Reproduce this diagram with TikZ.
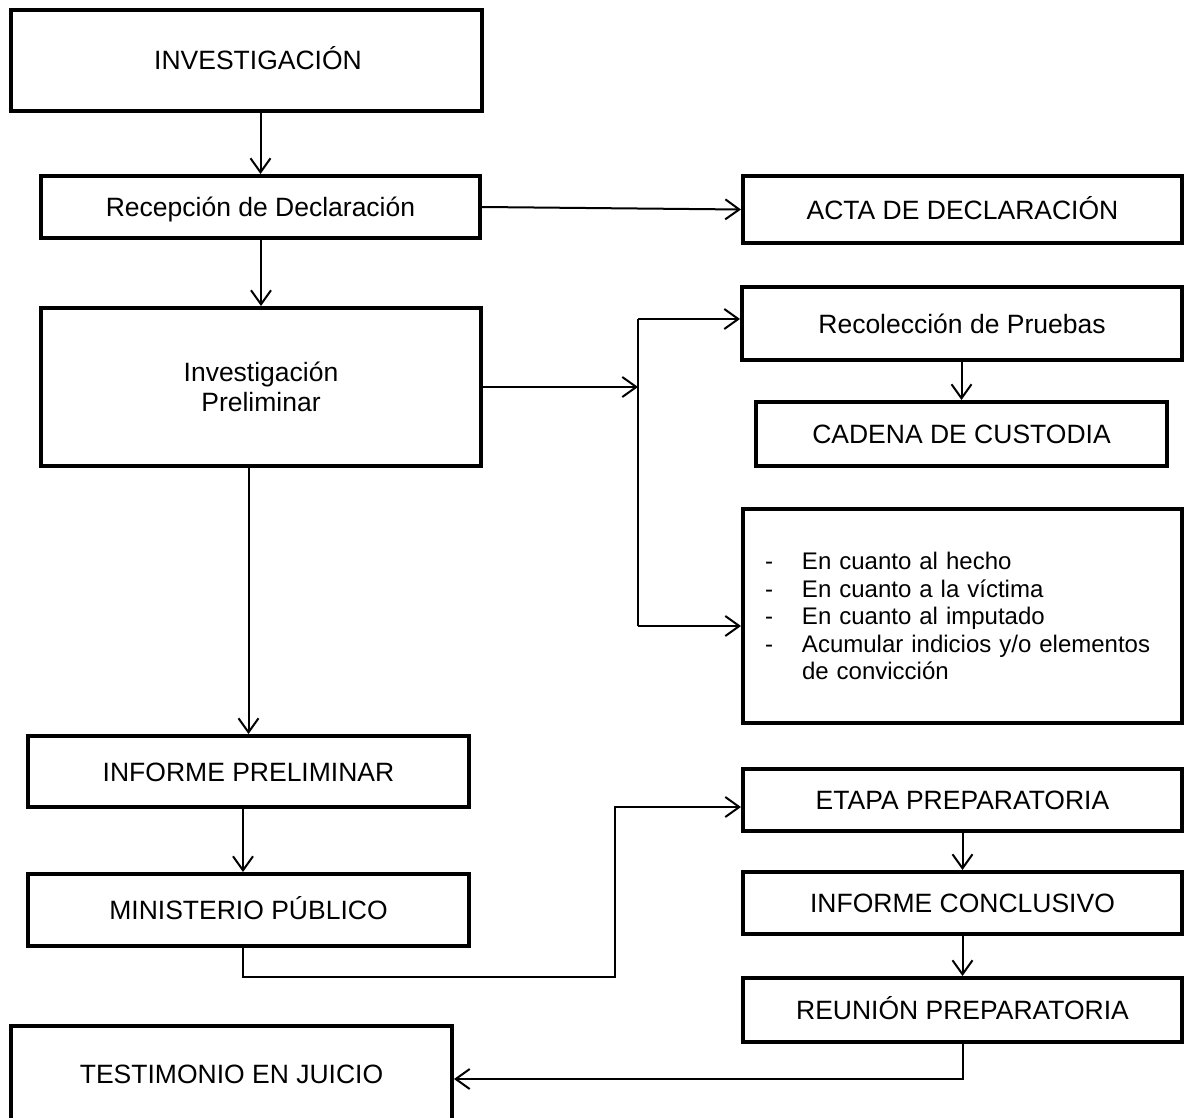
\documentclass[tikz,border=0pt]{standalone}
\usepackage{fontspec}
\setmainfont{Liberation Sans}
\usetikzlibrary{arrows.meta}
\begin{document}
\begin{tikzpicture}[x=1pt,y=-1pt,
  box/.style={draw, line width=4pt, inner sep=0pt, align=center,
    font=\fontsize{26.5pt}{30.5pt}\selectfont},
  onebox/.style={box, text height=19pt, text depth=0pt},
  listbox/.style={draw, line width=4pt, inner ysep=0pt, align=left,
    font=\fontsize{24pt}{27.5pt}\selectfont},
  conn/.style={line width=2pt, -{Straight Barb[length=14pt,width=20pt]}},
  thinconn/.style={line width=1.4pt, -{Straight Barb[length=14pt,width=20pt,line width=2pt]}}]
\useasboundingbox (0,0) rectangle (1185,1118);
\fill[white] (0,0) rectangle (1185,1118);
\clip (0,0) rectangle (1185,1118);

% left column
\node[onebox, minimum width=471pt, minimum height=101pt] (inv) at (246.5,60.5) {\hspace*{23pt}INVESTIGACIÓN};
\node[onebox, minimum width=439pt, minimum height=62pt] (rec) at (260.5,207) {Recepción de Declaración};
\node[box, minimum width=440pt, minimum height=158pt] (prel) at (261,387) {Investigación\\Preliminar};
\node[onebox, minimum width=441pt, minimum height=71pt] (infp) at (248.5,771.5) {INFORME PRELIMINAR};
\node[onebox, minimum width=441pt, minimum height=72pt] (mp) at (248.5,910) {MINISTERIO PÚBLICO};
\node[onebox, minimum width=441pt, minimum height=95pt] (test) at (231.5,1073.5) {TESTIMONIO EN JUICIO};

% right column
\node[onebox, minimum width=439pt, minimum height=67pt] (acta) at (962.5,209.5) {ACTA DE DECLARACIÓN};
\node[onebox, minimum width=440pt, minimum height=73pt] (reco) at (962,323.5) {Recolección de Pruebas};
\node[onebox, minimum width=411pt, minimum height=64pt] (cad) at (961.5,434) {CADENA DE CUSTODIA};
\node[listbox, minimum width=439pt, minimum height=214pt, text width=395pt, inner xsep=22pt] (list) at (962.5,616)
  {\makebox[37pt][l]{-}En cuanto al hecho\\
   \makebox[37pt][l]{-}En cuanto a la víctima\\
   \makebox[37pt][l]{-}En cuanto al imputado\\
   \makebox[37pt][l]{-}Acumular indicios y/o elementos\\
   \hspace*{37pt}de convicción};
\node[onebox, minimum width=439pt, minimum height=62pt] (etapa) at (962.5,800) {ETAPA PREPARATORIA};
\node[onebox, minimum width=439pt, minimum height=62pt] (infc) at (962.5,903) {INFORME CONCLUSIVO};
\node[onebox, minimum width=439pt, minimum height=64pt] (reun) at (962.5,1010) {REUNIÓN PREPARATORIA};

% junction coordinates
\coordinate (br) at (638,387);
\coordinate (bt) at (638,319);
\coordinate (bb) at (638,626);
\coordinate (m1) at (243,977);
\coordinate (m2) at (615,977);
\coordinate (m3) at (615,807);
\coordinate (r1) at (962.5,1079);

% connectors
\draw[conn] (inv.south -| rec.north) -- (rec.north);
\draw[conn] (rec.south -| prel.north) -- (prel.north);
\draw[conn] (rec.east) -- (acta.west);
\draw[conn] (prel.east |- br) -- (br);
\draw[line width=2pt] (bt) -- (bb);
\draw[conn] (bt) -- (bt -| reco.west);
\draw[conn] (bb) -- (bb -| list.west);
\draw[conn] (cad.north |- reco.south) -- (cad.north);
\draw[conn] (prel.south -| infp.north) -- (infp.north);
\draw[conn] ([xshift=-5.5pt]infp.south) -- ([xshift=-5.5pt]mp.north);
\draw[thinconn] ([xshift=-5.5pt]mp.south) -- (m1) -- (m2) -- (m3) -- (m3 -| etapa.west);
\draw[conn] (etapa.south) -- (infc.north);
\draw[conn] (infc.south) -- (reun.north);
\draw[conn] (reun.south) -- (r1) -- (r1 -| test.east);
\end{tikzpicture}
\end{document}
